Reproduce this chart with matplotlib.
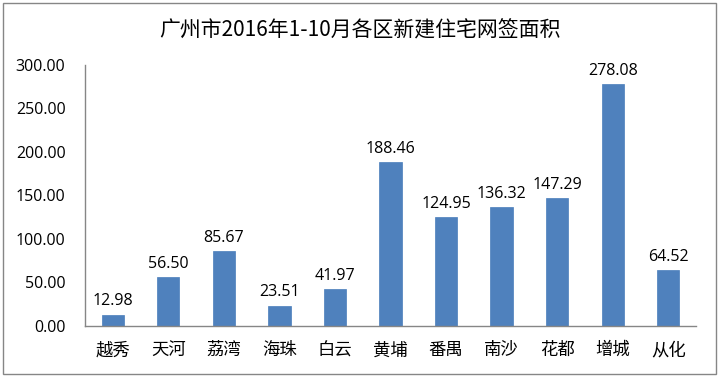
import matplotlib
matplotlib.use("Agg")
import matplotlib.pyplot as plt
from matplotlib.patches import Rectangle

plt.rcParams['font.family'] = ['Noto Sans CJK SC', 'DejaVu Sans']

categories = ["越秀", "天河", "荔湾", "海珠", "白云", "黄埔", "番禺", "南沙", "花都", "增城", "从化"]
values = [12.98, 56.50, 85.67, 23.51, 41.97, 188.46, 124.95, 136.32, 147.29, 278.08, 64.52]
yticks = [0, 50, 100, 150, 200, 250, 300]
title = "广州市2016年1-10月各区新建住宅网签面积"

W, H = 720, 377
fig = plt.figure(figsize=(W/100, H/100), dpi=100)
ax = fig.add_axes([85/W, 1-326/H, (696-85)/W, (326-65)/H])

x = range(len(categories))
bars = ax.bar(x, values, width=0.4, color="#4F81BD", edgecolor="#4A7EBB", linewidth=0.5)
for xi, v in zip(x, values):
    ax.text(xi, v + 6, f"{v:.2f}", ha="center", va="bottom", fontsize=11.5, family=['Open Sans', 'DejaVu Sans'], color="#000000")

ax.set_xlim(-0.5, len(categories) - 0.5)
ax.set_ylim(0, 300)
ax.set_yticks(yticks)
ax.set_yticklabels([f"{t:.2f}" for t in yticks], fontsize=11.5, family=['Open Sans', 'DejaVu Sans'])
ax.set_xticks(list(x))
ax.set_xticklabels(categories, fontsize=12.5)
ax.tick_params(axis='both', length=0)
ax.tick_params(axis='y', pad=14)
ax.tick_params(axis='x', pad=11)
for s in ["top", "right"]:
    ax.spines[s].set_visible(False)
for s in ["left", "bottom"]:
    ax.spines[s].set_color("#868686")
    ax.spines[s].set_linewidth(1)

fig.text(0.5, 1-30/H, title, ha="center", va="center", fontsize=15)
fig.add_artist(Rectangle((3/W, 3/H), (716-3)/W, (374-3)/H, transform=fig.transFigure,
                         fill=False, edgecolor="#868686", linewidth=1))

fig.savefig("out.png", dpi=100)
